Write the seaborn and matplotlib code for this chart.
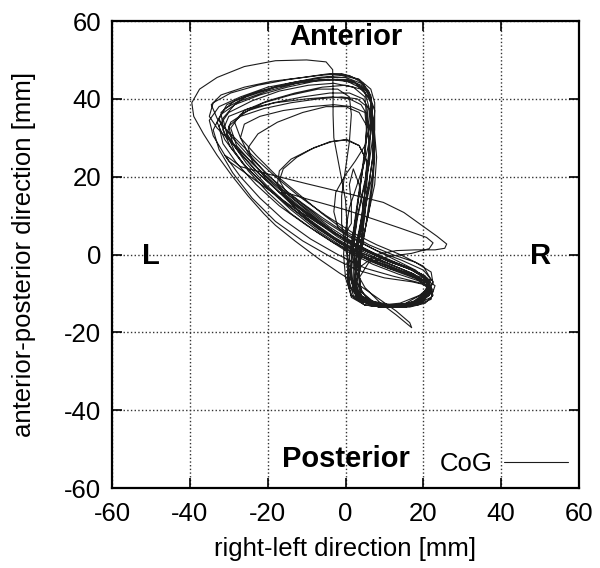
import numpy as np
import pandas as pd
import seaborn as sns
import matplotlib.pyplot as plt

# Centre of gravity trajectory, read off the figure stride by stride [mm]
# (x = right-left, y = anterior-posterior)
stride_01 = [(3, 10), (2, 2), (2.5, -4), (5, -8.5), (9, -12.5), (13, -15.5), (16, -18), (17, -18.8),
             (16.5, -17.5), (13, -14.5), (8, -11), (3, -7.5), (-1.5, -4.8), (-7, -1), (-13, 3.5),
             (-18, 7.5), (-21, 10.5), (-25, 15), (-29, 20), (-33, 25.5), (-36.5, 31), (-39, 35.5),
             (-39.5, 39), (-37.5, 42.5), (-33, 45.5), (-26, 48.3), (-18, 49.8), (-10, 50),
             (-5, 49.5), (-3.3, 47.5), (-3.2, 42), (-3.2, 36), (-3, 30)]
stride_02 = [(-3, 30), (-1.5, 22), (0, 14), (0.5, 6), (0.5, -2), (1, -8), (3, -11), (7.5, -13),
             (13, -13.5), (18, -12.5), (21, -10.5), (21, -7.5), (17.5, -5), (11.5, -2.5), (5, 0.5),
             (-2, 4.5), (-9, 9.5), (-16, 15), (-22, 20.5), (-27, 26), (-30.5, 31), (-31.5, 35),
             (-28.5, 38.5), (-22, 41), (-15, 43), (-8, 44.5), (-2, 45), (2.5, 44), (5, 41.5), (6, 38)]
stride_03 = [(6, 38), (7, 32), (7.5, 25), (7, 18), (6, 11), (4.5, 4), (3, -3), (2.5, -8),
             (4.5, -11.5), (9, -13), (14, -12.5), (19, -10.5), (22.5, -7.5), (22, -4.5), (18, -2),
             (12, 0), (6, 2.5), (0, 6), (-6, 10.5), (-12, 15.5), (-18, 20.5), (-23, 25.5), (-27, 30),
             (-28.5, 34), (-26, 37), (-20, 39.5), (-13, 41.5), (-6, 43), (0, 43.5), (4, 42.5),
             (6.5, 40), (7.5, 37)]
stride_04 = [(7.5, 37), (7, 30), (6, 23), (4.5, 16), (3, 9), (2, 2), (1.5, -4), (2, -9),
             (4, -12), (8.5, -13.5), (14, -13.5), (18.5, -12.5), (21.5, -10.5), (21.5, -8),
             (18, -7), (12, -5.5), (5, -3.5), (-2, 0), (-9, 4), (-16, 9), (-22, 14.5), (-27, 20),
             (-31, 25.5), (-34, 30.5), (-35, 34.5), (-32.5, 38), (-27, 40.5), (-20, 43),
             (-12, 44.5), (-5, 45.5), (0, 45.5), (4, 44), (6.5, 41)]
stride_05 = [(6.5, 41), (7, 35), (7.5, 28), (7, 21), (5.5, 14), (4, 7), (3, 0), (2.5, -6),
             (3.5, -10.5), (7.5, -13), (12.5, -13.5), (17.5, -12), (21, -9.5), (21, -6.5), (17, -4),
             (11, -1.5), (5, 1), (-1, 4.5), (-7, 8.5), (-12.5, 12.5), (-16, 15.5), (-17.5, 18),
             (-17, 21.5), (-14, 24.5), (-9, 27), (-4, 29), (0, 29.5), (3.5, 28), (5.5, 24)]
stride_06 = [(5.5, 24), (5, 17), (4.5, 10), (4, 3), (3.5, -3), (3.5, -8), (5.5, -11.5), (10, -13),
             (15, -13), (19.5, -11.5), (22, -9), (21, -6), (16.5, -3.5), (10, -1), (3, 2.5),
             (-4, 7), (-11, 12.5), (-18, 18), (-24, 23.5), (-29, 28.5), (-33, 32.5), (-35, 35.5),
             (-34, 39), (-29.5, 41.5), (-22.5, 43.5), (-14.5, 45), (-7, 46), (-1, 46.5), (3.5, 45),
             (6, 42), (6.8, 37)]
stride_07 = [(6.8, 37), (7.5, 31), (8, 25), (7.5, 18), (6, 11), (4.5, 4), (3.5, -2), (3, -7),
             (4, -10.5), (8, -13), (13.5, -13.5), (18.5, -13), (22, -11.5), (22.5, -9), (19.5, -7),
             (13.5, -5), (7, -2.5), (0, 1), (-7, 5.5), (-14, 10.5), (-20, 16), (-25, 21.5),
             (-28.5, 26.5), (-30.5, 31), (-29.5, 34), (-25, 37), (-18.5, 39), (-11, 40.5),
             (-4, 41.5), (1, 41.5), (4.5, 40), (6, 37.5)]
stride_08 = [(6, 37.5), (6.5, 32), (6, 24), (5, 16), (4, 8), (3, 1), (2.5, -5), (3, -10),
             (6, -12.5), (11, -13.5), (16, -13), (20, -11), (21.5, -8), (19.5, -5), (14, -2.5),
             (7, 0.5), (0, 4), (-7, 8), (-14, 12.5), (-21, 17.5), (-26.5, 21.5), (-30, 24),
             (-31, 25.5), (-29.5, 24.5), (-27, 22.6), (-20, 20.7), (-10, 18.2), (0, 15.8),
             (9.7, 13.4), (15, 10.8), (20, 7.2), (23.5, 4.7), (26, 2.7), (25.5, 1.6), (23, 1.2),
             (18, 1.2), (13, 1), (8, 0), (4, -3), (2.5, -8), (4, -11.5), (8.5, -13.5), (14, -13.5),
             (19, -12.5), (22, -10), (21.5, -7.5), (17.5, -5.5), (11, -3.5), (4, -0.5), (-3, 3),
             (-10, 7.5), (-17, 12.5), (-23, 18), (-28, 23.5), (-31.5, 28.5), (-32.5, 33), (-30, 36.5),
             (-24, 39.5), (-17, 42), (-9.5, 43.5), (-3, 44), (2, 43), (5, 40.5)]
stride_09 = [(5, 40.5), (5.5, 34), (5, 27), (4, 20), (3, 13), (2, 6), (1, 0), (0.5, -6),
             (1.5, -10.5), (5, -13), (10, -13.5), (15, -13), (19.5, -11.5), (21, -8.5), (18, -6),
             (12, -3.5), (5, -0.5), (-1, 3), (-7, 7), (-12, 11), (-15.5, 14.5), (-16.5, 15.8),
             (-15, 15.8), (-10, 14.3), (0, 11.5), (7.2, 9.1), (14, 6.8), (20.8, 4.4), (22.5, 3),
             (21.5, 1.5), (17, 0.3), (11, -0.5), (6, -2), (3.5, -6), (4, -10.5), (7.5, -13),
             (12.5, -13.5), (17.5, -12.5), (21, -10), (21.5, -7), (18, -4), (12, -1), (6, 2),
             (0, 5.5), (-6, 9.5), (-11.5, 13.5), (-15.5, 16.5), (-17, 19), (-16, 22), (-12.5, 25),
             (-8, 27.5), (-3.5, 29), (0.5, 29.5), (3.5, 28), (5.5, 24)]
stride_10 = [(5.5, 24), (5.5, 17), (5, 10), (4, 3), (3, -3), (2, -8), (3, -11.5), (6.5, -13),
             (11.5, -13.5), (17, -12.5), (21, -10.5), (22.5, -7), (20, -4), (14.5, -1.5), (8, 1),
             (1, 4.5), (-6, 9), (-13, 14.5), (-19.5, 20), (-25, 25.5), (-29.5, 30.5), (-33, 35),
             (-34.5, 38.5), (-32, 41), (-26, 43), (-19, 44.5), (-11, 45.5), (-4, 46.5), (1, 46),
             (4.5, 44), (6.5, 40)]
stride_11 = [(6.5, 40), (6.5, 34), (5, 28), (2.5, 24), (0, 20.5), (-2.5, 16), (-3, 11), (-2, 7),
             (0, 5.5), (1.5, 8), (1.5, 13), (1, 18), (2, 22), (3.5, 18), (4.5, 12), (4.5, 6),
             (4, 0), (3.5, -5), (4, -9.5), (7, -12.5), (12, -13.5), (17, -13), (20.5, -11),
             (21.5, -8.5), (19, -6.5), (13.5, -4.5), (7, -2), (0, 1.5), (-7, 6), (-14, 11.5),
             (-20, 17), (-25.5, 22.5), (-29.5, 27.5), (-31.5, 32), (-30, 35.5), (-25, 37.5),
             (-18, 39), (-10, 40), (-3.5, 40.5), (1, 40), (4, 38.5), (5.5, 36)]
stride_12 = [(5.5, 36), (6, 30), (6, 23), (5, 16), (4, 9), (3, 2), (2.5, -4), (2.5, -9),
             (5, -12), (10, -13.5), (15.5, -13.5), (20, -12), (22, -9.5), (21, -7), (16.5, -5),
             (10.5, -2.5), (4, 0.5), (-3, 4.5), (-10, 9.5), (-16, 15), (-20.5, 19.5), (-24, 24),
             (-25, 27.5), (-22.5, 31), (-17.5, 34), (-11, 36.5), (-5, 38), (0, 38), (3.5, 36.5),
             (5.5, 33)]
stride_13 = [(5.5, 33), (5, 26), (4, 19), (3, 12), (2, 5), (1.5, -1), (1, -7), (2, -10.5),
             (5.5, -12.5), (11, -13.5), (16.5, -13.5), (20.5, -12.5), (22.5, -10.5), (21.5, -8),
             (17, -7), (10, -6), (3, -4), (-4, -0.5), (-11, 3.5), (-18, 8.5), (-24, 14.5),
             (-29, 21), (-32.5, 27), (-34, 32), (-32, 36), (-27, 39.5), (-20, 42), (-12.5, 44),
             (-5.5, 45), (0.5, 45), (4, 43.5), (6.5, 40.5)]
stride_14 = [(6.5, 40.5), (7, 34), (7.5, 27), (7, 20), (6, 13), (5, 6), (4, 0), (3.5, -5),
             (4, -9.5), (7, -12), (12, -13), (17, -12.5), (20.5, -10.5), (21, -7.5), (17.5, -5),
             (11.5, -2.5), (5, 0), (-1.5, 3), (-8, 7.5), (-14.5, 12.5), (-20.5, 18), (-25.5, 23.5),
             (-29, 28.5), (-30, 33), (-27, 35.5), (-21, 37.5), (-14, 39), (-7, 40), (-1, 40.5),
             (3, 40), (5.5, 38)]
stride_15 = [(5.5, 38), (6, 33), (6, 26), (5, 19), (3.5, 12), (2, 5), (1, -1), (0.5, -7),
             (1.5, -11), (5, -13), (10, -13.5), (15.5, -12.5), (20, -10), (22, -6.5), (20, -3),
             (14, 0), (8, 2.5), (2, 5.5), (-5, 10), (-12, 15), (-18, 20), (-23.5, 25), (-28, 29.5),
             (-31.5, 33), (-32, 36.5), (-28.5, 39.5), (-22, 42), (-14.5, 44), (-7, 45.5), (-1, 46),
             (3.5, 45), (6.5, 42.5), (7.5, 39)]
stride_16 = [(7.5, 39), (7.5, 32), (7, 25), (6, 18), (4.5, 11), (3, 4), (2, -2), (2, -7),
             (3.5, -11), (7.5, -13), (13, -13.5), (18, -12), (21.5, -9.5), (21.5, -6.5), (17.5, -4),
             (11.5, -2), (5, 1), (-2, 5), (-9, 10.5), (-15.5, 16), (-21, 21.5), (-25, 26), (-27, 30),
             (-26, 33.5), (-22, 35.5), (-16, 37), (-9, 38), (-3, 38.5), (1.5, 38), (5, 36.5)]
stride_17 = [(5, 36.5), (5.5, 31), (5, 26), (4, 19), (3, 12), (2, 5), (1.5, -1.5), (1.5, -7),
             (3, -10.5), (7, -13), (12.5, -13.5), (18, -13), (22, -11), (23, -8), (20, -6),
             (13.5, -4), (7, -1.5), (0, 2), (-7, 6.5), (-14, 12), (-20.5, 17.5), (-26.5, 23.5),
             (-31, 29.5), (-33, 34), (-31, 37.5), (-25.5, 40.5), (-18, 43), (-10, 44.5), (-3, 45),
             (2, 44.5), (5.5, 42), (7, 38)]
stride_18 = [(7, 38), (6.5, 31), (5, 24), (3, 18), (1, 12), (0, 6), (-0.5, 0), (0, -6),
             (1.5, -10.5), (5, -13), (10, -13.5), (15.5, -13), (20, -11.5), (22, -8.5), (20.5, -5.5),
             (15, -3), (8.5, -0.5), (2, 2.5), (-5, 7), (-12, 12.5), (-18.5, 18), (-24, 23.5),
             (-28, 28), (-29.5, 32.5), (-27, 36), (-21, 39), (-14, 41), (-7, 42.5), (-2, 42.5),
             (1, 40.5), (1.5, 36)]
stride_19 = [(1.5, 36), (1, 29), (0, 22), (-1, 15), (-1, 8), (0, 2), (1, -4), (2, -9),
             (4.5, -12), (9.5, -13.5), (15, -13.5), (19.5, -12), (22, -9.5), (21.5, -6.5), (17, -4),
             (10.5, -1.5), (4, 1.5), (-3, 5.5), (-10, 10.5), (-17, 16), (-23, 21.5), (-27.5, 26.5),
             (-31, 31), (-32.5, 35), (-30.5, 38.5), (-25, 41), (-18, 43), (-11, 44.5), (-4.5, 45),
             (0.5, 44.5), (4.5, 42.5), (6.5, 39)]
stride_20 = [(6.5, 39), (7, 32), (7, 25), (6, 18), (5, 11), (3.5, 4), (2.5, -2), (2.5, -8),
             (4.5, -11.5), (9, -13), (14.5, -13.5), (19, -12), (21.5, -9.5), (21, -7), (17, -5)]

strides = [stride_01, stride_02, stride_03, stride_04, stride_05, stride_06, stride_07,
           stride_08, stride_09, stride_10, stride_11, stride_12, stride_13, stride_14,
           stride_15, stride_16, stride_17, stride_18, stride_19, stride_20]

cog = pd.DataFrame([p for s in strides for p in s], columns=['x', 'y'])

ticks = [-60, -40, -20, 0, 20, 40, 60]

sns.set_style('ticks')
plt.rcParams['font.family'] = ['Liberation Sans', 'DejaVu Sans']
plt.rcParams['axes.unicode_minus'] = False
plt.rcParams['text.color'] = 'black'
plt.rcParams['axes.labelcolor'] = 'black'

fig = plt.figure(figsize=(6, 5.68), dpi=100)
ax = fig.add_axes([0.1867, 0.1408, 0.7783, 0.8222])

sns.lineplot(data=cog, x='x', y='y', sort=False, estimator=None, color='#1c1c1c',
             lw=0.8, ax=ax, label='CoG')

ax.set_xlim(-60, 60)
ax.set_ylim(-60, 60)
ax.set_xticks(ticks)
ax.set_yticks(ticks)
ax.set_axisbelow(True)
ax.grid(True, linestyle=':', color='0.2', linewidth=1.0)
ax.tick_params(direction='in', length=7, width=1.2, top=True, right=True,
               labelsize=18.5, colors='black')
ax.tick_params(axis='x', pad=10)
ax.tick_params(axis='y', pad=8)
for sp in ax.spines.values():
    sp.set_linewidth(1.6)
    sp.set_color('black')

ax.set_xlabel('right-left direction [mm]', fontsize=18.5, labelpad=8)
ax.set_ylabel('anterior-posterior direction [mm]', fontsize=18.5, labelpad=20)

ax.text(0, 53.9, 'Anterior', ha='center', va='baseline', fontsize=21, fontweight='bold')
ax.text(0, -54.6, 'Posterior', ha='center', va='baseline', fontsize=21, fontweight='bold')
ax.text(-50, -2.5, 'L', ha='center', va='baseline', fontsize=21, fontweight='bold')
ax.text(50, -2.5, 'R', ha='center', va='baseline', fontsize=21, fontweight='bold')

ax.legend(loc='lower right', bbox_to_anchor=(0.993, 0.01), frameon=False,
          markerfirst=False, handlelength=2.5, handletextpad=0.45, fontsize=18.5,
          borderaxespad=0, borderpad=0.3)

fig.savefig('out.png', dpi=100)
plt.close()
